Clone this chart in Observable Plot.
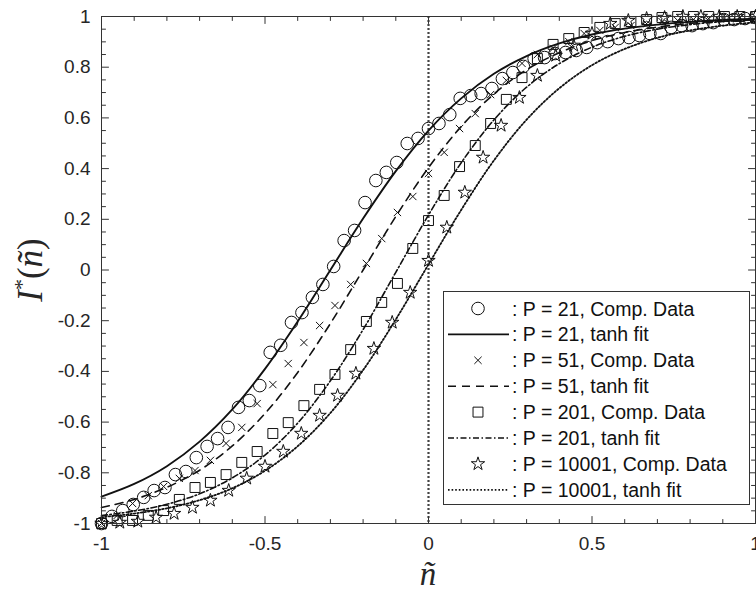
<!DOCTYPE html>
<html><head><meta charset="utf-8">
<script src="https://cdn.jsdelivr.net/npm/d3@7"></script>
<script src="https://cdn.jsdelivr.net/npm/@observablehq/plot@0.6"></script>
<style>
body{margin:0;background:#fff;}
#wrap{position:relative;width:756px;height:593px;overflow:hidden;background:#fff;}
#wrap svg{position:absolute;left:0;top:0;}
</style></head><body><div id="wrap"></div>
<script>
// ---- tick labels ----
const xTicks = [-1, -0.5, 0, 0.5, 1];
const yTicks = [-1, -0.8, -0.6, -0.4, -0.2, 0, 0.2, 0.4, 0.6, 0.8, 1];
const xMinor = [-0.9,-0.8,-0.7,-0.6,-0.4,-0.3,-0.2,-0.1,0.1,0.2,0.3,0.4,0.6,0.7,0.8,0.9];
const yMinor = [-0.95,-0.9,-0.85,-0.75,-0.7,-0.65,-0.55,-0.5,-0.45,-0.35,-0.3,-0.25,-0.15,-0.1,-0.05,0.05,0.1,0.15,0.25,0.3,0.35,0.45,0.5,0.55,0.65,0.7,0.75,0.85,0.9,0.95];

// ---- tanh fit curves ----
const fitX = [-1,-0.9,-0.8,-0.7,-0.6,-0.5,-0.4,-0.3,-0.2,-0.1,0,0.1,0.2,0.3,0.4,0.5,0.6,0.7,0.8,0.9,1];
const fit21 = [-0.894,-0.844,-0.774,-0.677,-0.550,-0.390,-0.203,0,0.203,0.390,0.550,0.677,0.774,0.844,0.894,0.929,0.952,0.968,0.979,0.986,0.991];
const fit51 = [-0.937,-0.905,-0.857,-0.790,-0.694,-0.566,-0.404,-0.211,0,0.211,0.404,0.566,0.694,0.790,0.857,0.905,0.937,0.958,0.973,0.982,0.988];
const fit201 = [-0.969,-0.951,-0.924,-0.883,-0.820,-0.730,-0.604,-0.437,-0.235,-0.009,0.217,0.423,0.592,0.721,0.814,0.879,0.922,0.950,0.968,0.980,0.987];
const fit10001 = [-0.975,-0.961,-0.940,-0.908,-0.861,-0.792,-0.695,-0.564,-0.395,-0.195,0.022,0.237,0.432,0.593,0.717,0.808,0.872,0.916,0.945,0.964,0.977];

// ---- computational data ----
const x21 = [-1,-0.968,-0.935,-0.903,-0.871,-0.839,-0.806,-0.774,-0.742,-0.710,-0.677,-0.645,-0.613,-0.581,-0.548,-0.516,-0.484,-0.452,-0.419,-0.387,-0.355,-0.323,-0.290,-0.258,-0.226,-0.194,-0.161,-0.129,-0.097,-0.065,-0.032,0,0.032,0.065,0.097,0.129,0.161,0.194,0.226,0.258,0.290,0.323,0.355,0.387,0.419,0.452,0.484,0.516,0.548,0.581,0.613,0.645,0.677,0.710,0.742,0.774,0.806,0.839,0.871,0.903,0.935,0.968,1];
const y21 = [-1,-0.972,-0.949,-0.925,-0.897,-0.870,-0.858,-0.807,-0.795,-0.740,-0.696,-0.665,-0.621,-0.542,-0.515,-0.456,-0.325,-0.297,-0.207,-0.168,-0.108,-0.057,0.014,0.116,0.156,0.266,0.353,0.385,0.424,0.499,0.519,0.558,0.578,0.613,0.677,0.688,0.696,0.716,0.755,0.779,0.803,0.834,0.838,0.854,0.858,0.866,0.878,0.897,0.901,0.913,0.917,0.925,0.933,0.933,0.957,0.964,0.964,0.972,0.976,0.988,0.988,0.992,0.996];

const x51 = [-1,-0.952,-0.905,-0.857,-0.810,-0.762,-0.714,-0.667,-0.619,-0.571,-0.524,-0.476,-0.429,-0.381,-0.333,-0.286,-0.238,-0.190,-0.143,-0.095,-0.048,0,0.048,0.095,0.143,0.190,0.238,0.286,0.333,0.381,0.429,0.476,0.524,0.571,0.619,0.667,0.714,0.762,0.810,0.857,0.905,0.952,1];
const y51 = [-1,-0.968,-0.921,-0.890,-0.854,-0.822,-0.791,-0.751,-0.684,-0.621,-0.527,-0.452,-0.369,-0.286,-0.219,-0.140,-0.057,0.026,0.124,0.227,0.290,0.381,0.464,0.558,0.617,0.692,0.748,0.815,0.850,0.874,0.901,0.933,0.945,0.957,0.964,0.972,0.980,0.984,0.988,0.992,0.994,0.996,0.998];

const x201 = x51;
const y201 = [-1,-0.988,-0.988,-0.968,-0.949,-0.905,-0.858,-0.838,-0.807,-0.759,-0.716,-0.645,-0.602,-0.535,-0.471,-0.412,-0.314,-0.203,-0.128,-0.053,0.085,0.195,0.294,0.408,0.491,0.578,0.673,0.759,0.834,0.890,0.913,0.937,0.957,0.972,0.980,0.988,0.996,1,1,1,1,1,1];

const x10001 = [-1,-0.944,-0.889,-0.833,-0.778,-0.722,-0.667,-0.611,-0.556,-0.5,-0.444,-0.389,-0.333,-0.278,-0.222,-0.167,-0.111,-0.056,0,0.056,0.111,0.167,0.222,0.278,0.333,0.389,0.444,0.5,0.556,0.611,0.667,0.722,0.778,0.833,0.889,0.944,1];
const y10001 = [-1,-0.996,-0.992,-0.976,-0.961,-0.937,-0.909,-0.870,-0.822,-0.775,-0.716,-0.645,-0.574,-0.495,-0.408,-0.310,-0.207,-0.089,0.037,0.168,0.306,0.444,0.570,0.680,0.767,0.846,0.886,0.933,0.972,0.984,0.992,0.996,1,1,1,1,1];

const legendLabels = [": P = 21, Comp. Data", ": P = 21, tanh fit", ": P = 51, Comp. Data", ": P = 51, tanh fit", ": P = 201, Comp. Data", ": P = 201, tanh fit", ": P = 10001, Comp. Data", ": P = 10001, tanh fit"];

// ---- styles ----
const INK = "#111";
const AX = "#333";
const lineStyles = [
  {dash: null, w: 1.9},
  {dash: "8,6", w: 1.6},
  {dash: "6,2.5,1.5,2.5", w: 1.6},
  {dash: "1.6,2", w: 1.8}
];
const sym = {circle: 6.3, times: 3.4, square: 5.6, star: 4.2};

const fmt = d => String(d);
const tick = (l) => ({draw(ctx){ ctx.moveTo(0,0); ctx.lineTo(0,-l); }});

const fits = [fit21, fit51, fit201, fit10001];
const lineMarks = fits.map((f, k) => Plot.line(fitX, {
  x: (d) => d, y: (d, i) => f[i], curve: "catmull-rom",
  stroke: INK, strokeWidth: lineStyles[k].w, strokeDasharray: lineStyles[k].dash
}));

const dataSets = [
  [x21, y21, "circle"], [x51, y51, "times"], [x201, y201, "square"], [x10001, y10001, "star"]
];
const dotMarks = dataSets.map(([xs, ys, s]) => Plot.dot(xs, {
  x: (d) => d, y: (d, i) => ys[i], symbol: s, r: sym[s],
  stroke: INK, fill: "none", strokeWidth: 1
}));

const tickMarks = [
  Plot.vector(xTicks, {x: d => d, frameAnchor: "bottom", anchor: "start", rotate: 0, shape: tick(7), stroke: AX, strokeWidth: 1}),
  Plot.vector(xMinor, {x: d => d, frameAnchor: "bottom", anchor: "start", rotate: 0, shape: tick(4), stroke: AX, strokeWidth: 1}),
  Plot.vector(xTicks, {x: d => d, frameAnchor: "top", anchor: "start", rotate: 180, shape: tick(7), stroke: AX, strokeWidth: 1}),
  Plot.vector(xMinor, {x: d => d, frameAnchor: "top", anchor: "start", rotate: 180, shape: tick(4), stroke: AX, strokeWidth: 1}),
  Plot.vector(yTicks, {y: d => d, frameAnchor: "left", anchor: "start", rotate: 90, shape: tick(7), stroke: AX, strokeWidth: 1}),
  Plot.vector(yMinor, {y: d => d, frameAnchor: "left", anchor: "start", rotate: 90, shape: tick(4), stroke: AX, strokeWidth: 1}),
  Plot.vector(yTicks, {y: d => d, frameAnchor: "right", anchor: "start", rotate: -90, shape: tick(7), stroke: AX, strokeWidth: 1}),
  Plot.vector(yMinor, {y: d => d, frameAnchor: "right", anchor: "start", rotate: -90, shape: tick(4), stroke: AX, strokeWidth: 1})
];

const chart = Plot.plot({
  width: 756, height: 593,
  marginLeft: 101, marginRight: 1, marginTop: 16, marginBottom: 70,
  x: {domain: [-1, 1], label: null},
  y: {domain: [-1, 1], label: null},
  style: {fontFamily: "'Liberation Sans', Arial, sans-serif", fontSize: "19px", color: "#262626", background: "white", overflow: "visible"},
  marks: [
    Plot.ruleX([0], {stroke: "#444", strokeWidth: 2.2, strokeDasharray: "2,2"}),
    ...lineMarks,
    ...dotMarks,
    Plot.frame({stroke: AX, strokeWidth: 1}),
    ...tickMarks,
    Plot.axisX(xTicks, {tickSize: 0, tickPadding: 13, tickFormat: fmt, fontSize: 19}),
    Plot.axisY(yTicks, {tickSize: 0, tickPadding: 11, tickFormat: fmt, fontSize: 19})
  ]
});
document.getElementById("wrap").appendChild(chart);

// ---- overlay: axis titles and legend ----
const ov = d3.select("#wrap").append("svg").attr("width", 756).attr("height", 593);
const serif = "'Liberation Serif', 'DejaVu Serif', serif";

ov.append("text").attr("x", 428).attr("y", 585).attr("text-anchor", "middle")
  .attr("font-family", serif).attr("font-style", "italic").attr("font-size", 33).attr("fill", "#262626").text("ñ");

const yl = ov.append("text").attr("transform", "translate(42,270) rotate(-90)").attr("text-anchor", "middle")
  .attr("font-family", serif).attr("font-size", 35).attr("fill", "#262626");
yl.append("tspan").attr("font-style", "italic").text("I");
yl.append("tspan").attr("font-size", 22).attr("dy", -13).text("*");
yl.append("tspan").attr("dy", 13).text("(");
yl.append("tspan").attr("font-style", "italic").text("ñ");
yl.append("tspan").text(")");

const lg = ov.append("g");
lg.append("rect").attr("x", 443.5).attr("y", 291.5).attr("width", 306).attr("height", 213)
  .attr("fill", "white").attr("stroke", AX).attr("stroke-width", 1);
const symTypes = {circle: d3.symbolCircle, times: d3.symbolTimes, square: d3.symbolSquare, star: d3.symbolStar};
legendLabels.forEach((lab, i) => {
  const cy = 308.5 + i * 25.9;
  const k = Math.floor(i / 2);
  if (i % 2 === 0) {
    const s = dataSets[k][2];
    lg.append("path").attr("transform", `translate(478,${cy})`)
      .attr("d", d3.symbol(symTypes[s], Math.PI * sym[s] * sym[s])())
      .attr("fill", "none").attr("stroke", INK).attr("stroke-width", 1);
  } else {
    lg.append("line").attr("x1", 448).attr("x2", 509).attr("y1", cy).attr("y2", cy)
      .attr("stroke", INK).attr("stroke-width", lineStyles[k].w)
      .attr("stroke-dasharray", lineStyles[k].dash);
  }
  lg.append("text").attr("x", 512).attr("y", cy + 7)
    .attr("font-family", "'Liberation Sans', Arial, sans-serif").attr("font-size", 19.5)
    .attr("fill", "#111").text(lab);
});
</script>
</body></html>
